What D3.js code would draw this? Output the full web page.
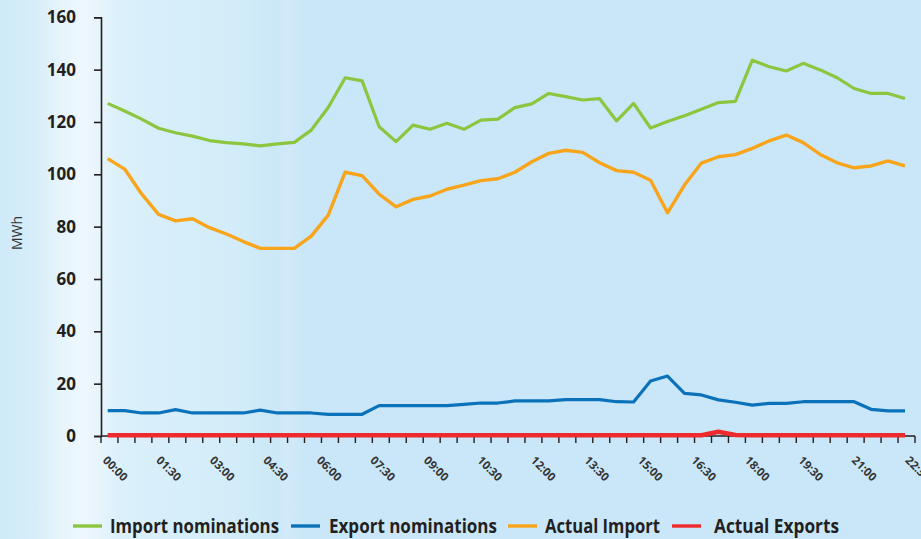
<!DOCTYPE html>
<html>
<head>
<meta charset="utf-8">
<script src="https://cdn.jsdelivr.net/npm/d3@7"></script>
<style>
  html, body { margin: 0; padding: 0; }
  body { width: 921px; height: 539px; overflow: hidden; }
  svg { display: block; }
</style>
</head>
<body>
<svg id="chart" width="921" height="539"></svg>
<script>
// Half-hourly settlement periods
const times = [
  "00:00","00:30","01:00","01:30","02:00","02:30","03:00","03:30",
  "04:00","04:30","05:00","05:30","06:00","06:30","07:00","07:30",
  "08:00","08:30","09:00","09:30","10:00","10:30","11:00","11:30",
  "12:00","12:30","13:00","13:30","14:00","14:30","15:00","15:30",
  "16:00","16:30","17:00","17:30","18:00","18:30","19:00","19:30",
  "20:00","20:30","21:00","21:30","22:00","22:30","23:00","23:30"
];

// Axis labels shown along the time axis
const timeLabels = [
  "00:00","01:30","03:00","04:30","06:00","07:30","09:00","10:30",
  "12:00","13:30","15:00","16:30","18:00","19:30","21:00","22:30"
];

const yTicks = [0, 20, 40, 60, 80, 100, 120, 140, 160];

// MWh per period
const importNominations = [
  127.1,124.2,121.1,117.6,115.9,114.6,112.9,112.1,
  111.6,110.9,111.6,112.2,116.9,125.5,136.9,135.7,
  118.2,112.5,118.8,117.2,119.5,117.2,120.7,121.1,
  125.5,126.9,130.9,129.7,128.4,128.9,120.4,127.1,
  117.7,120.2,122.4,124.9,127.4,127.9,143.6,141.1,
  139.5,142.4,139.9,136.9,132.8,130.9,130.9,129.0
];

const exportNominations = [
  9.7,9.7,8.8,8.8,10.1,8.8,8.8,8.8,
  8.8,9.9,8.8,8.8,8.8,8.3,8.3,8.3,
  11.6,11.6,11.6,11.6,11.6,12.1,12.6,12.6,
  13.4,13.4,13.4,13.9,13.9,13.9,13.1,13.0,
  21.0,22.9,16.3,15.7,13.8,12.9,11.8,12.5,
  12.5,13.1,13.1,13.1,13.1,10.2,9.6,9.6
];

const actualImport = [
  106.0,102.0,92.5,84.7,82.2,83.0,79.6,77.2,
  74.3,71.7,71.7,71.7,76.4,84.4,100.8,99.5,
  92.4,87.6,90.4,91.7,94.3,95.9,97.6,98.3,
  100.8,104.8,108.0,109.2,108.4,104.4,101.4,100.8,
  97.7,85.3,95.9,104.3,106.7,107.5,109.9,112.8,
  115.0,112.1,107.6,104.4,102.5,103.2,105.1,103.2
];

const actualExports = [
  0.3,0.3,0.3,0.3,0.3,0.3,0.3,0.3,
  0.3,0.3,0.3,0.3,0.3,0.3,0.3,0.3,
  0.3,0.3,0.3,0.3,0.3,0.3,0.3,0.3,
  0.3,0.3,0.3,0.3,0.3,0.3,0.3,0.3,
  0.3,0.3,0.3,0.3,1.6,0.4,0.3,0.3,
  0.3,0.3,0.3,0.3,0.3,0.3,0.3,0.3
];

const seriesNames = ["Import nominations", "Export nominations", "Actual Import", "Actual Exports"];
const seriesColors = ["#8cc63f", "#0b72b9", "#f9a51b", "#ee2a2e"];
const seriesValues = [importNominations, exportNominations, actualImport, actualExports];

const svg = d3.select("#chart");
const W = 921, H = 539;
const ink = "#231f20";

// Soft banded blue backdrop
const defs = svg.append("defs");
const bg = defs.append("linearGradient").attr("id", "bg")
  .attr("x1", 0).attr("x2", 1).attr("y1", 0).attr("y2", 0);
[
  [0.00, "#cfeaf8"], [0.04, "#d7eefa"], [0.065, "#e6f4fc"], [0.09, "#eef7fe"],
  [0.11, "#e6f4fc"], [0.13, "#dbf0fb"], [0.20, "#d5eefa"], [0.255, "#d2ecf9"],
  [0.30, "#cbe8f8"], [0.31, "#d2eafa"], [0.33, "#c9e7f8"], [0.70, "#c9e7f9"],
  [1.00, "#c9e7f9"]
].forEach(([o, c]) => bg.append("stop").attr("offset", o).attr("stop-color", c));
svg.append("rect").attr("width", W).attr("height", H).attr("fill", "url(#bg)");

// Plot frame
const plotLeft = 101, plotRight = 915, plotTop = 17.3, plotBottom = 436;
const y = d3.scaleLinear().domain([0, 160]).range([plotBottom, plotTop]);
const xBand = d3.scaleBand().domain(times).range([plotLeft, plotRight]);
const x = d3.scalePoint().domain(times).range([107.7, 905]);
const xLab = d3.scalePoint().domain(timeLabels).range([plotLeft, 903.5]);

// Y axis
const yAxis = d3.axisLeft(y).tickValues(yTicks).tickSize(7).tickPadding(18);
const gy = svg.append("g").attr("transform", `translate(${plotLeft},0)`).call(yAxis);
gy.select(".domain").attr("stroke", ink).attr("stroke-width", 1.6);
gy.selectAll(".tick line").attr("stroke", ink).attr("stroke-width", 1.6);
gy.selectAll(".tick text")
  .attr("fill", ink)
  .style("font-family", "'Open Sans', 'Liberation Sans', sans-serif")
  .style("font-weight", "700")
  .style("font-size", "17px");

// X axis: band edges carry the tick marks
const edges = times.map(t => xBand(t)).concat([plotRight]);
const gx = svg.append("g");
gx.append("line")
  .attr("x1", plotLeft).attr("x2", plotRight)
  .attr("y1", plotBottom).attr("y2", plotBottom)
  .attr("stroke", ink).attr("stroke-width", 1.6);
gx.selectAll("line.tk").data(edges).join("line")
  .attr("class", "tk")
  .attr("x1", d => d).attr("x2", d => d)
  .attr("y1", plotBottom).attr("y2", plotBottom + 7)
  .attr("stroke", ink).attr("stroke-width", 1.4);

gx.selectAll("text").data(timeLabels).join("text")
  .attr("transform", d => `translate(${xLab(d) + 1},${plotBottom + 25}) rotate(45)`)
  .attr("fill", "#333")
  .style("font-family", "'Open Sans', 'Liberation Sans', sans-serif")
  .style("font-weight", "700")
  .style("font-size", "11.5px")
  .text(d => d);

// Y axis title
svg.append("text")
  .attr("transform", `translate(22,233) rotate(-90)`)
  .attr("text-anchor", "middle")
  .attr("fill", "#333")
  .style("font-family", "'Open Sans', 'Liberation Sans', sans-serif")
  .style("font-size", "14px")
  .text("MWh");

// Series lines
const line = d3.line().x((d, i) => x(times[i])).y(d => y(d));
const widths = [3.2, 3.2, 3.4, 4.6];
seriesValues.forEach((vals, k) => {
  svg.append("path")
    .datum(vals)
    .attr("fill", "none")
    .attr("stroke", seriesColors[k])
    .attr("stroke-width", widths[k])
    .attr("stroke-linejoin", "round")
    .attr("d", line);
});

// Legend
const legendItems = [
  { sx: 73, tx: 110, tw: 169 },
  { sx: 291, tx: 329, tw: 168 },
  { sx: 508, tx: 545, tw: 115 },
  { sx: 672, tx: 714, tw: 125 }
];
const lg = svg.append("g");
seriesNames.forEach((name, k) => {
  const it = legendItems[k];
  lg.append("line")
    .attr("x1", it.sx).attr("x2", it.sx + 29)
    .attr("y1", 526).attr("y2", 526)
    .attr("stroke", seriesColors[k]).attr("stroke-width", 3.4);
  lg.append("text")
    .attr("x", it.tx).attr("y", 533)
    .attr("fill", ink)
    .attr("textLength", it.tw)
    .attr("lengthAdjust", "spacingAndGlyphs")
    .style("font-family", "'Liberation Sans Narrow', 'Open Sans', sans-serif")
    .style("font-weight", "700")
    .style("font-size", "19px")
    .text(name);
});
</script>
</body>
</html>
